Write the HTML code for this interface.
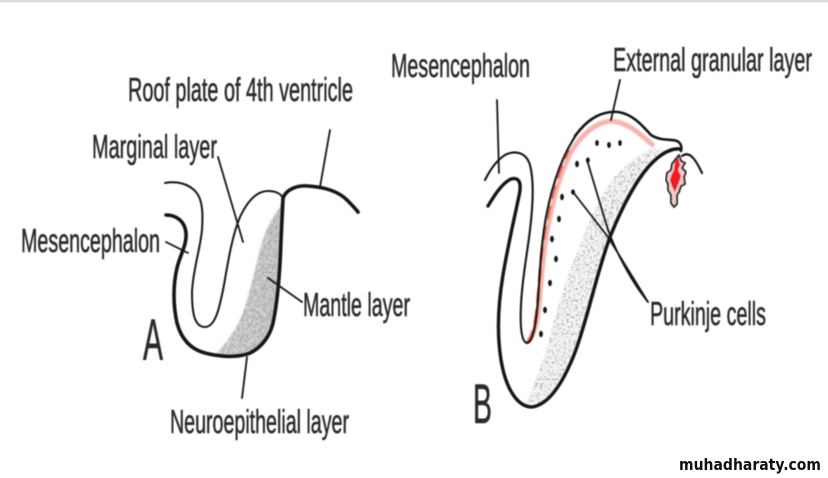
<!DOCTYPE html>
<html>
<head>
<meta charset="utf-8">
<style>
html,body{margin:0;padding:0;background:#fff;width:828px;height:478px;overflow:hidden}
svg{display:block}
text{font-family:"Liberation Sans",sans-serif;fill:#2a2a2a;stroke:#2a2a2a;stroke-width:.55}
</style>
</head>
<body>
<svg width="828" height="478" viewBox="0 0 828 478" xmlns="http://www.w3.org/2000/svg">
<defs>
<filter id="b" x="-5%" y="-5%" width="110%" height="110%"><feGaussianBlur stdDeviation="0.6"/></filter>
<filter id="t" x="-5%" y="-5%" width="110%" height="110%"><feGaussianBlur stdDeviation="0.5"/></filter>
<filter id="r" x="-5%" y="-5%" width="110%" height="110%"><feGaussianBlur stdDeviation="0.9"/></filter>
<filter id="soft" x="-10%" y="-10%" width="120%" height="120%"><feGaussianBlur stdDeviation="1.4"/></filter>
<filter id="sa" x="0" y="0" width="100%" height="100%">
<feTurbulence type="fractalNoise" baseFrequency="0.5" numOctaves="2" seed="4" result="n"/>
<feColorMatrix in="n" type="matrix" values="0 0 0 0 0.4  0 0 0 0 0.4  0 0 0 0 0.4  2.4 2.4 0 0 -2.1"/>
<feGaussianBlur stdDeviation="0.5"/>
</filter>
<filter id="sb" x="0" y="0" width="100%" height="100%">
<feTurbulence type="fractalNoise" baseFrequency="0.42" numOctaves="2" seed="9" result="n"/>
<feColorMatrix in="n" type="matrix" values="0 0 0 0 0.45  0 0 0 0 0.45  0 0 0 0 0.45  3 3 0 0 -3"/>
<feGaussianBlur stdDeviation="0.5"/>
</filter>
<linearGradient id="ga" x1="0" y1="0" x2="1" y2="0"><stop offset="0" stop-color="#f2f2f2"/><stop offset="1" stop-color="#d6d6d6"/></linearGradient>
<clipPath id="ca"><path d="M280,208C268,222 262,240 258,258C253,280 248,298 242,316C234,334 224,345 216,354L227,358L250,354C262,347 270,336 273,323C278,300 280,270 281,240L283,200Z"/></clipPath>
<clipPath id="cb"><path d="M653,148C632,158 616,172 605,190C592,212 582,240 570,270C560,300 552,325 548,345C542,365 532,385 527,404L540,406C558,396 572,360 587,323C597,290 604,255 612,235C626,200 650,165 665,150Z"/></clipPath>
</defs>
<rect width="828" height="478" fill="#fff"/>
<rect width="828" height="2" fill="#dcdcdc"/>
<rect y="2" width="828" height="1" fill="#f2f2f2"/>

<g filter="url(#soft)"><g clip-path="url(#ca)"><rect x="205" y="195" width="85" height="170" fill="url(#ga)"/><rect x="205" y="195" width="85" height="170" filter="url(#sa)"/></g></g>
<g filter="url(#soft)"><g clip-path="url(#cb)"><rect x="515" y="140" width="160" height="275" fill="#f5f5f5"/></g></g>
<g clip-path="url(#ca)"><rect x="205" y="195" width="85" height="170" filter="url(#sa)"/></g>
<g clip-path="url(#cb)"><rect x="515" y="140" width="160" height="275" filter="url(#sb)"/></g>

<!-- red band -->
<g filter="url(#r)" fill="none">
<path stroke="#f7b5ae" stroke-width="5" d="M528,342C535,334 538,320 540,295C542,270 544,245 549,222C554,195 561,172 571,152C581,135 596,122 611,121C628,122 640,134 654,146"/>
<path stroke="#ea5a4e" stroke-width="2.4" stroke-dasharray="14 7" d="M527,343C533,335 536,320 538,295C540,270 542,245 547,222C552,195 559,170 569,150"/>
</g>

<g filter="url(#b)" fill="none" stroke="#161616" stroke-linecap="round" stroke-linejoin="round">
<!-- A -->
<path stroke-width="2" d="M165,183C176,181 188,183 196,192C203,200 203,215 202,230C200,250 193,270 192,292C192,312 194,327 205,327C216,327 220,305 224,285C228,262 232,236 240,217C247,202 256,191 268,191C276,191 281,194 283,198"/>
<path stroke-width="3.6" d="M166,215C176,215 185,221 186,233C187,245 180,255 177,268C173,285 173,305 177,323C181,338 190,349 205,353C220,357 238,358 250,353C262,347 270,336 273,323C278,300 280,270 281,240L283,198C286,190 296,185 308,186C324,187 338,191 347,200C351,204 355,208 358,212"/>
<path stroke-width="1.8" d="M330,130L320,187M218,157L243,242M166,242L188,253M268,278L302,302M247,357L242,398"/>
<!-- B -->
<path stroke-width="2.1" d="M485,180C490,170 497,160 505,155C515,150 526,152 530,165C534,180 533,205 530,230C527,255 522,280 521,305C520,325 521,342 527,343C533,342 536,325 538,300C540,270 541,245 546,217C552,185 562,155 578,132C590,116 604,111 618,112"/>
<path stroke-width="2.6" d="M575,136C590,116 604,111 618,112C632,114 641,124 651,135C660,141 672,139 677,141C681,143 682,147 681,151"/>
<path stroke-width="3.4" d="M488,206C494,196 502,183 511,179C519,177 522,182 519,196C515,215 508,245 503,275C498,305 497,335 501,360C506,390 518,407 532,407C548,405 562,385 574,355C586,325 596,275 610,237C622,207 637,178 652,163C662,153 672,148 680,149"/>
<path stroke-width="2.2" d="M682,156C686,153 690,154 694,159C698,164 700,169 702,173"/>
<path stroke-width="1.8" d="M497,100L499,173M620,80L611,120M587,160L605,220C612,245 630,280 648,302M573,192L608,237L648,302"/>
</g>

<!-- tuft -->
<g filter="url(#t)">
<path fill="#f3c9c9" stroke="#2e2e2e" stroke-width="2" stroke-linejoin="round" d="M679,155L681,161L685,163L682,168L686,172L684,177L685,184L681,186L679,192L677,195L677,204L674,207L671,203L671,195L668,190L668,184L666,180L667,173L671,170L672,164L675,160Z"/>
<path fill="#ee1c25" d="M678,157L680,165L678,170L681,176L679,182L677,187L675,192L672,186L670,180L672,174L674,170L675,162Z"/>
</g>

<g filter="url(#t)" fill="#151515">
<ellipse cx="597" cy="143" rx="1.8" ry="3"/><ellipse cx="609" cy="145" rx="1.9" ry="3"/><ellipse cx="620" cy="143" rx="1.8" ry="3"/>
<ellipse cx="577" cy="164" rx="1.9" ry="3.2"/><ellipse cx="588" cy="160" rx="1.8" ry="2.6"/><ellipse cx="562" cy="197" rx="1.9" ry="3.2"/><ellipse cx="573" cy="192" rx="1.9" ry="2.6"/>
<ellipse cx="559" cy="219" rx="1.9" ry="3.2"/><ellipse cx="552" cy="239" rx="1.9" ry="3.2"/><ellipse cx="556" cy="259" rx="1.9" ry="3.2"/><ellipse cx="550" cy="283" rx="1.9" ry="3.2"/><ellipse cx="545" cy="310" rx="1.9" ry="3.2"/><ellipse cx="541" cy="334" rx="1.9" ry="3.2"/>
</g>

<g filter="url(#t)">
<text x="128" y="101" font-size="33" textLength="225" lengthAdjust="spacingAndGlyphs">Roof plate of 4th ventricle</text>
<text x="92" y="158" font-size="33" textLength="125" lengthAdjust="spacingAndGlyphs">Marginal layer</text>
<text x="21" y="252" font-size="33" textLength="139" lengthAdjust="spacingAndGlyphs">Mesencephalon</text>
<text x="303" y="316" font-size="33" textLength="107" lengthAdjust="spacingAndGlyphs">Mantle layer</text>
<text x="170" y="433" font-size="33" textLength="179" lengthAdjust="spacingAndGlyphs">Neuroepithelial layer</text>
<text x="143" y="360" font-size="58" textLength="20" lengthAdjust="spacingAndGlyphs">A</text>
<text x="391" y="77" font-size="33" textLength="139" lengthAdjust="spacingAndGlyphs">Mesencephalon</text>
<text x="613" y="71" font-size="33" textLength="199" lengthAdjust="spacingAndGlyphs">External granular layer</text>
<text x="650" y="325" font-size="33" textLength="116" lengthAdjust="spacingAndGlyphs">Purkinje cells</text>
<text x="473" y="423" font-size="56" textLength="19" lengthAdjust="spacingAndGlyphs">B</text>
</g>
<text x="679" y="470" font-size="16" font-weight="bold" textLength="142" lengthAdjust="spacingAndGlyphs" style="font-family:'DejaVu Sans',sans-serif;fill:#111;stroke:none">muhadharaty.com</text>
</svg>
</body>
</html>
